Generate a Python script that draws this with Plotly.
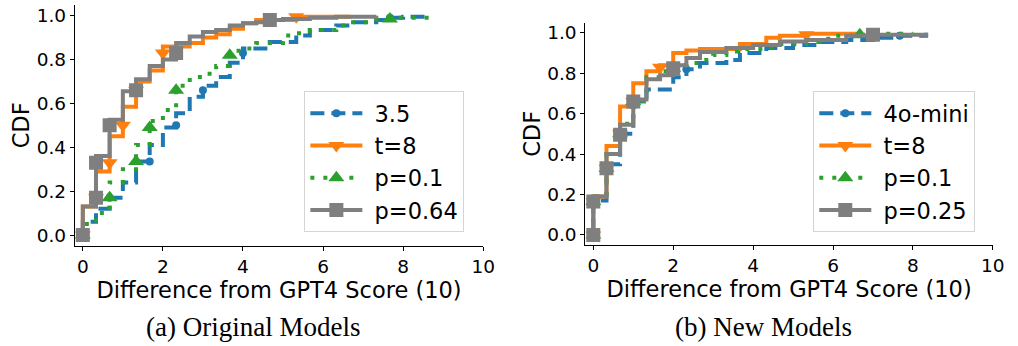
import plotly.graph_objects as go

# ---- (a) Original Models: step CDF points (x = score difference, cdf = cumulative share)
a35_x = [0, 0, 0.33, 0.67, 1.0, 1.33, 1.67, 2.0, 2.33, 2.67, 3.0, 3.33, 3.67, 4.0, 4.67, 5.33, 5.67, 6.33, 6.67, 7.33, 7.67, 8.0, 8.67]
a35_cdf = [0, 0.06, 0.12, 0.17, 0.24, 0.335, 0.41, 0.49, 0.555, 0.63, 0.68, 0.72, 0.785, 0.85, 0.88, 0.91, 0.935, 0.955, 0.97, 0.98, 0.99, 0.995, 1.0]
a35_mk_x = [0, 0.67, 1.67, 2.33, 3.0, 4.0, 7.67]
a35_mk_cdf = [0, 0.17, 0.335, 0.5, 0.66, 0.83, 0.99]

at8_x = [0, 0, 0.33, 0.67, 1.0, 1.33, 1.67, 2.0, 2.67, 3.0, 3.33, 3.67, 4.0, 4.33, 5.33, 6.67]
at8_cdf = [0, 0.13, 0.29, 0.45, 0.585, 0.70, 0.75, 0.86, 0.875, 0.90, 0.915, 0.94, 0.965, 0.98, 0.995, 1.0]
at8_mk_x = [0, 0.33, 0.67, 1.0, 1.33, 2.0, 5.33]
at8_mk_cdf = [0, 0.17, 0.33, 0.5, 0.66, 0.83, 0.995]

ap01_x = [0, 0, 0.33, 0.67, 1.0, 1.33, 1.67, 2.0, 2.33, 2.67, 3.0, 3.33, 3.67, 4.0, 4.33, 5.0, 5.33, 5.67, 6.33, 6.67, 7.33, 7.67, 8.67]
ap01_cdf = [0, 0.05, 0.10, 0.24, 0.30, 0.41, 0.52, 0.57, 0.68, 0.72, 0.735, 0.77, 0.84, 0.85, 0.875, 0.91, 0.92, 0.935, 0.955, 0.97, 0.98, 0.99, 1.0]
ap01_mk_x = [0, 0.67, 1.33, 1.67, 2.33, 3.67, 7.67]
ap01_mk_cdf = [0, 0.17, 0.335, 0.49, 0.66, 0.82, 0.985]

ap064_x = [0, 0, 0.33, 0.67, 1.0, 1.33, 1.67, 2.0, 2.33, 2.67, 3.0, 3.33, 3.67, 4.0, 4.33, 4.67, 5.0, 5.67, 6.33, 7.33]
ap064_cdf = [0, 0.13, 0.36, 0.525, 0.655, 0.71, 0.77, 0.80, 0.875, 0.905, 0.925, 0.935, 0.955, 0.965, 0.97, 0.98, 0.985, 0.99, 0.995, 1.0]
ap064_mk_x = [0, 0.33, 0.33, 0.67, 1.33, 2.33, 4.67]
ap064_mk_cdf = [0, 0.17, 0.33, 0.5, 0.66, 0.83, 0.98]

# ---- (b) New Models
bmini_x = [0, 0, 0.33, 0.67, 1.0, 1.33, 2.0, 2.33, 2.67, 3.33, 3.67, 4.33, 5.0, 5.67, 6.33, 7.0, 7.67, 8.33]
bmini_cdf = [0, 0.17, 0.35, 0.50, 0.66, 0.72, 0.78, 0.82, 0.85, 0.866, 0.90, 0.925, 0.94, 0.955, 0.965, 0.975, 0.985, 1.0]
bmini_mk_x = [0, 0, 0.33, 0.67, 1.0, 2.33, 7.67]
bmini_mk_cdf = [0, 0.165, 0.33, 0.5, 0.64, 0.82, 0.985]

bt8_x = [0, 0, 0.33, 0.67, 1.0, 1.33, 1.67, 2.0, 2.33, 2.67, 3.67, 4.33, 4.67, 5.33, 6.67]
bt8_cdf = [0, 0.19, 0.44, 0.635, 0.75, 0.81, 0.84, 0.90, 0.912, 0.92, 0.945, 0.975, 0.985, 0.995, 1.0]
bt8_mk_x = [0, 0, 0.33, 0.67, 1.0, 1.67, 5.33]
bt8_mk_cdf = [0, 0.165, 0.33, 0.5, 0.66, 0.83, 0.99]

bp01_x = [0, 0, 0.33, 0.67, 1.0, 1.33, 1.67, 2.0, 2.33, 2.67, 3.0, 3.33, 3.67, 4.33, 4.67, 5.33, 5.67, 6.0, 6.67, 7.33, 8.0]
bp01_cdf = [0, 0.19, 0.40, 0.55, 0.66, 0.78, 0.81, 0.84, 0.85, 0.866, 0.89, 0.907, 0.92, 0.93, 0.945, 0.955, 0.97, 0.985, 0.99, 0.995, 1.0]
bp01_mk_x = [0, 0, 0.33, 0.67, 1.0, 2.0, 6.67]
bp01_mk_cdf = [0, 0.165, 0.33, 0.5, 0.66, 0.825, 0.99]

bp025_x = [0, 0, 0.33, 0.67, 1.0, 1.33, 1.67, 2.0, 2.33, 2.67, 3.33, 4.0, 4.67, 5.33, 6.33, 7.0, 8.33]
bp025_cdf = [0, 0.19, 0.40, 0.545, 0.67, 0.77, 0.79, 0.84, 0.875, 0.905, 0.925, 0.94, 0.957, 0.965, 0.985, 0.99, 1.0]
bp025_mk_x = [0, 0, 0.33, 0.67, 1.0, 2.0, 7.0]
bp025_mk_cdf = [0, 0.165, 0.33, 0.495, 0.66, 0.825, 0.99]

x_ticks = [0, 2, 4, 6, 8, 10]
y_ticks = [0.0, 0.2, 0.4, 0.6, 0.8, 1.0]
x_title = "Difference from GPT4 Score (10)"
y_title = "CDF"
captions = ["(a) Original Models", "(b) New Models"]

BLUE, ORANGE, GREEN, GRAY = "#1f77b4", "#ff7f0e", "#2ca02c", "#7f7f7f"
DASHED = "14px,7px"
DOTTED = "4px,9px"
FONT = "DejaVu Sans"

W, H = 1018, 346
fig = go.Figure()


def add_series(name, xs, cdf, mk_x, mk_cdf, color, dash, symbol, msize, xa, ya, legend):
    line = dict(color=color, width=4, dash=dash)
    marker = dict(color=color, symbol=symbol, size=msize, line=dict(width=0))
    fig.add_trace(go.Scatter(x=xs, y=cdf, mode="lines", line=dict(line, shape="hv"),
                             xaxis=xa, yaxis=ya, showlegend=False, hoverinfo="skip"))
    fig.add_trace(go.Scatter(x=mk_x, y=mk_cdf, mode="markers", marker=marker,
                             xaxis=xa, yaxis=ya, showlegend=False, hoverinfo="skip"))
    # legend entry: line with a marker in the middle; leading space widens the gap to the label
    fig.add_trace(go.Scatter(x=[None], y=[None], mode="lines+markers", name=" " + name,
                             line=line, marker=marker, xaxis=xa, yaxis=ya,
                             legend=legend, legendgroup=legend + name))


add_series("3.5", a35_x, a35_cdf, a35_mk_x, a35_mk_cdf, BLUE, DASHED, "circle", 8, "x", "y", "legend")
add_series("t=8", at8_x, at8_cdf, at8_mk_x, at8_mk_cdf, ORANGE, "solid", "triangle-down", 14, "x", "y", "legend")
add_series("p=0.1", ap01_x, ap01_cdf, ap01_mk_x, ap01_mk_cdf, GREEN, DOTTED, "triangle-up", 14, "x", "y", "legend")
add_series("p=0.64", ap064_x, ap064_cdf, ap064_mk_x, ap064_mk_cdf, GRAY, "solid", "square", 14, "x", "y", "legend")

add_series("4o-mini", bmini_x, bmini_cdf, bmini_mk_x, bmini_mk_cdf, BLUE, DASHED, "circle", 8, "x2", "y2", "legend2")
add_series("t=8", bt8_x, bt8_cdf, bt8_mk_x, bt8_mk_cdf, ORANGE, "solid", "triangle-down", 14, "x2", "y2", "legend2")
add_series("p=0.1", bp01_x, bp01_cdf, bp01_mk_x, bp01_mk_cdf, GREEN, DOTTED, "triangle-up", 14, "x2", "y2", "legend2")
add_series("p=0.25", bp025_x, bp025_cdf, bp025_mk_x, bp025_mk_cdf, GRAY, "solid", "square", 14, "x2", "y2", "legend2")


def xaxis(domain):
    return dict(domain=domain, range=[-0.2, 10], tickvals=x_ticks, showline=True,
                linecolor="black", linewidth=1, ticks="outside", ticklen=4, tickcolor="black",
                tickfont=dict(size=18.5, family=FONT, color="black"), showgrid=False, zeroline=False,
                title=dict(text=x_title, font=dict(size=22.5, family=FONT, color="black"), standoff=4))


def yaxis(domain, anchor):
    return dict(domain=domain, anchor=anchor, range=[-0.05, 1.05], tickvals=y_ticks, tickformat=".1f",
                showline=True, linecolor="black", linewidth=1, ticks="outside", ticklen=4,
                tickcolor="black", tickfont=dict(size=18.5, family=FONT, color="black"),
                showgrid=False, zeroline=False,
                title=dict(text=y_title, font=dict(size=22.5, family=FONT, color="black"), standoff=0))


def legend_box(left, top):
    return dict(x=left / W, y=1 - top / H, xanchor="left", yanchor="top",
                bgcolor="rgba(255,255,255,0.8)", bordercolor="#d4d4d4", borderwidth=1,
                font=dict(size=22.5, family=FONT, color="black"), itemwidth=52,
                tracegroupgap=4, traceorder="normal")


fig.update_layout(
    width=W, height=H, margin=dict(l=0, r=0, t=0, b=0),
    paper_bgcolor="white", plot_bgcolor="white",
    xaxis=dict(xaxis([75.7 / W, 489 / W]), anchor="y"),
    yaxis=yaxis([1 - 246 / H, 1 - 4.7 / H], "x"),
    xaxis2=dict(xaxis([592.3 / W, 1004.7 / W]), anchor="y2"),
    yaxis2=yaxis([1 - 245 / H, 1 - 22.7 / H], "x2"),
    legend=legend_box(308, 91),
    legend2=legend_box(823, 91),
    showlegend=True,
)

for cx, text in zip([256, 773], captions):
    fig.add_annotation(x=cx / W, y=1 - 327 / H, xref="paper", yref="paper", text=text,
                       showarrow=False, xanchor="center", yanchor="middle",
                       font=dict(size=27, family="Liberation Serif", color="black"))

fig.write_html("out.html")
